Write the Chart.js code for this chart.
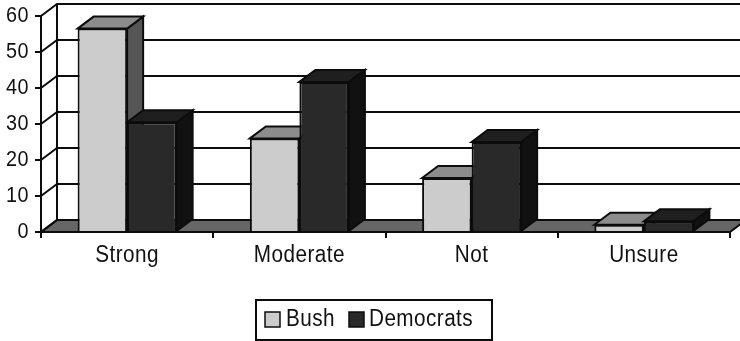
<!DOCTYPE html>
<html>
<head>
<meta charset="utf-8">
<title>Bush vs Democrats</title>
<style>
  html, body { margin: 0; padding: 0; background: #fff; }
  #wrap { width: 740px; height: 341px; overflow: hidden; }
</style>
<script src="https://cdn.jsdelivr.net/npm/chart.js@4/dist/chart.umd.min.js"></script>
</head>
<body>
<div id="wrap"><canvas id="chart" width="740" height="341"></canvas></div>
<script>
const categories = ['Strong', 'Moderate', 'Not', 'Unsure'];
const bushValues = [56.5, 26, 15, 2];
const democratValues = [30.5, 41.7, 25, 3];
const yTicks = [0, 10, 20, 30, 40, 50, 60];

const FONT = '"Liberation Sans", Arial, sans-serif';
const DEPTH_X = 16, DEPTH_Y = 12;
const INK = '#0c0c0c';

// per-series shades for the extruded faces
const faces = [
    { top: '#8c8c8c', side: '#555555' },
    { top: '#1f1f1f', side: '#111111' }
];

function poly(ctx, pts, fill) {
    ctx.beginPath();
    pts.forEach((p, i) => i ? ctx.lineTo(p[0], p[1]) : ctx.moveTo(p[0], p[1]));
    ctx.closePath();
    if (fill) { ctx.fillStyle = fill; ctx.fill(); }
    ctx.stroke();
}

// floor, back wall and side wall, then the top and side of every bar
const depthPlugin = {
    id: 'depth',
    beforeDraw(chart) {
        // all labels are set slightly condensed
        const ctx = chart.ctx;
        if (ctx.plainFillText) return;
        ctx.letterSpacing = '0.5px';
        ctx.plainFillText = ctx.fillText;
        ctx.fillText = function (text, x, y) {
            this.save();
            this.translate(x, y);
            this.scale(0.9, 1);
            this.plainFillText(text, 0, 0);
            this.restore();
        };
    },
    beforeDatasetsDraw(chart) {
        const ctx = chart.ctx, a = chart.chartArea, y = chart.scales.y;
        ctx.save();
        ctx.strokeStyle = INK;
        ctx.lineWidth = 2;
        ctx.lineJoin = 'miter';

        poly(ctx, [[a.left, a.bottom], [a.right, a.bottom],
                   [a.right + DEPTH_X, a.bottom - DEPTH_Y], [a.left + DEPTH_X, a.bottom - DEPTH_Y]], '#666666');

        yTicks.forEach(v => {
            const py = y.getPixelForValue(v);
            ctx.beginPath();
            ctx.moveTo(a.left, py);
            ctx.lineTo(a.left + DEPTH_X, py - DEPTH_Y);
            if (v > 0) ctx.lineTo(a.right + DEPTH_X, py - DEPTH_Y);
            ctx.stroke();
        });
        ctx.beginPath();
        ctx.moveTo(a.left + DEPTH_X, a.bottom - DEPTH_Y);
        ctx.lineTo(a.left + DEPTH_X, y.getPixelForValue(60) - DEPTH_Y);
        ctx.stroke();

        categories.forEach((c, i) => {
            chart.data.datasets.forEach((ds, d) => {
                const bar = chart.getDatasetMeta(d).data[i];
                const l = bar.x - bar.width / 2, r = bar.x + bar.width / 2;
                poly(ctx, [[r, bar.y], [r + DEPTH_X, bar.y - DEPTH_Y],
                           [r + DEPTH_X, bar.base - DEPTH_Y], [r, bar.base]], faces[d].side);
                poly(ctx, [[l, bar.y], [l + DEPTH_X, bar.y - DEPTH_Y],
                           [r + DEPTH_X, bar.y - DEPTH_Y], [r, bar.y]], faces[d].top);
            });
        });
        ctx.restore();
    },
    // boxed legend under the plot
    afterDraw(chart) {
        const ctx = chart.ctx;
        ctx.save();
        ctx.strokeStyle = INK;
        ctx.lineWidth = 2;
        ctx.strokeRect(256, 300, 236, 40);
        ctx.font = '23px ' + FONT;
        ctx.textAlign = 'left';
        ctx.textBaseline = 'alphabetic';
        const slots = [{ box: 265, text: 286 }, { box: 349, text: 369 }];
        chart.data.datasets.forEach((ds, d) => {
            ctx.fillStyle = ds.backgroundColor;
            ctx.lineWidth = 1.5;
            ctx.fillRect(slots[d].box, 312, 15, 15);
            ctx.strokeRect(slots[d].box, 312, 15, 15);
            ctx.fillStyle = '#111';
            ctx.fillText(ds.label, slots[d].text, 326);
        });
        ctx.restore();
    }
};

new Chart(document.getElementById('chart'), {
    type: 'bar',
    data: {
        labels: categories,
        datasets: [
            { label: 'Bush', data: bushValues, backgroundColor: '#cccccc', borderColor: INK, borderWidth: 2 },
            { label: 'Democrats', data: democratValues, backgroundColor: '#292929', borderColor: INK, borderWidth: 2 }
        ]
    },
    options: {
        responsive: false,
        animation: false,
        categoryPercentage: 0.575,
        barPercentage: 1,
        layout: { padding: { top: 16, right: 10, left: 0, bottom: 0 } },
        plugins: { legend: { display: false }, tooltip: { enabled: false } },
        scales: {
            x: {
                afterFit(s) { s.height = 109; },
                grid: { drawOnChartArea: false, color: INK, lineWidth: 2, tickLength: 6 },
                border: { color: INK, width: 2 },
                ticks: { color: '#111', font: { family: FONT, size: 23 }, padding: 4, maxRotation: 0 }
            },
            y: {
                min: 0,
                max: 60,
                afterFit(s) { s.width = 41; s.paddingTop = 0; s.paddingBottom = 0; },
                afterBuildTicks(s) { s.ticks = yTicks.map(v => ({ value: v })); },
                grid: { drawOnChartArea: false, color: INK, lineWidth: 2, tickLength: 6 },
                border: { color: INK, width: 2 },
                ticks: { color: '#111', font: { family: FONT, size: 22 }, padding: 6 }
            }
        }
    },
    plugins: [depthPlugin]
});
</script>
</body>
</html>
